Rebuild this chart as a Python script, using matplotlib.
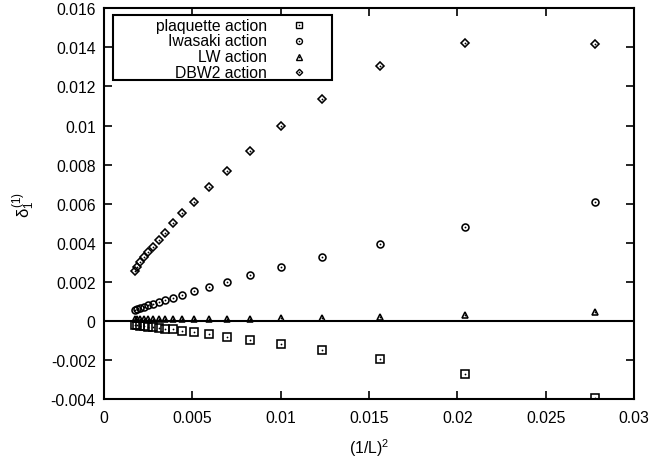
import matplotlib
matplotlib.use("Agg")
import matplotlib.pyplot as plt
from matplotlib.patches import Rectangle
import numpy as np

# =========================
# DATA
# =========================
L_values = [6, 7, 8, 9, 10, 11, 12, 13, 14, 15, 16, 17, 18, 19, 20, 21, 22, 23, 24]

plaquette = [-0.00397, -0.00272, -0.00195, -0.00149, -0.00120, -0.00096, -0.00080,
             -0.00068, -0.00056, -0.00050, -0.00043, -0.00040, -0.00036, -0.00032,
             -0.00029, -0.00027, -0.00025, -0.00023, -0.00021]
iwasaki = [0.00607, 0.00482, 0.00395, 0.00327, 0.00275, 0.00234, 0.00200,
           0.00173, 0.00151, 0.00134, 0.00119, 0.00105, 0.00096, 0.00088,
           0.00080, 0.00073, 0.00066, 0.00061, 0.00056]
lw_action = [0.00045, 0.00031, 0.00020, 0.00015, 0.00013, 0.00012, 0.00011,
             0.00011, 0.00010, 0.00010, 0.00010, 0.00009, 0.00009, 0.00009,
             0.00009, 0.00008, 0.00008, 0.00008, 0.00008]
dbw2 = [0.01419, 0.01421, 0.01304, 0.01138, 0.00995, 0.00870, 0.00768,
        0.00683, 0.00611, 0.00551, 0.00499, 0.00451, 0.00415, 0.00380,
        0.00351, 0.00325, 0.00300, 0.00276, 0.00254]

labels = ['plaquette action', 'Iwasaki action', 'LW action', 'DBW2 action']

x_ticks = [0, 0.005, 0.01, 0.015, 0.02, 0.025, 0.03]
x_tick_labels = ['0', '0.005', '0.01', '0.015', '0.02', '0.025', '0.03']
y_ticks = [-0.004, -0.002, 0, 0.002, 0.004, 0.006, 0.008, 0.01, 0.012, 0.014, 0.016]
y_tick_labels = ['-0.004', '-0.002', '0', '0.002', '0.004', '0.006', '0.008',
                 '0.01', '0.012', '0.014', '0.016']

x = 1.0 / np.array(L_values, dtype=float) ** 2

# =========================
# STYLE
# =========================
plt.rcParams['font.family'] = ['Liberation Sans', 'DejaVu Sans']
plt.rcParams['mathtext.fontset'] = 'custom'
plt.rcParams['mathtext.rm'] = 'Liberation Sans'
plt.rcParams['mathtext.it'] = 'Liberation Sans'
plt.rcParams['mathtext.bf'] = 'Liberation Sans:bold'

fig = plt.figure(figsize=(6.49, 4.60), dpi=100)
ax = fig.add_axes([0.1602, 0.1304, 0.8167, 0.8494])

series = [
    (plaquette, 's', 5.8),
    (iwasaki, 'o', 5.0),
    (lw_action, '^', 4.8),
    (dbw2, 'D', 3.8),
]

for values, marker, ms in series:
    ax.plot(x, values, linestyle='none', marker=marker, markersize=ms,
            markerfacecolor='none', markeredgecolor='black', markeredgewidth=1.15,
            zorder=3)
    # gnuplot-style centre dot
    ax.plot(x, values, linestyle='none', marker='o', markersize=1.3,
            markerfacecolor='black', markeredgewidth=0, zorder=4)

ax.axhline(0, color='black', linewidth=1.5, zorder=2)

ax.set_xlim(0, 0.03)
ax.set_ylim(-0.004, 0.016)
ax.set_xticks(x_ticks)
ax.set_xticklabels(x_tick_labels)
ax.set_yticks(y_ticks)
ax.set_yticklabels(y_tick_labels)
ax.tick_params(direction='in', top=True, right=True, length=6, width=1.2,
               labelsize=11.3)
ax.tick_params(axis='x', pad=8)
ax.tick_params(axis='y', pad=6)
for spine in ax.spines.values():
    spine.set_linewidth(1.5)

ax.set_xlabel(r'(1/L)$^2$', fontsize=11.3, labelpad=8)
ax.set_ylabel(r'$\delta_1^{(1)}$', fontsize=12, labelpad=10)

# =========================
# LEGEND (gnuplot-like key: text right-aligned, marker on the right)
# =========================
box = Rectangle((0.0175, 0.8172), 0.4133, 0.1657, transform=ax.transAxes,
                facecolor='white', edgecolor='black', linewidth=1.5, zorder=5)
ax.add_patch(box)
row_y = 0.956
row_step = 0.0397
for i, (label, (values, marker, ms)) in enumerate(zip(labels, series)):
    yy = row_y - i * row_step
    ax.text(0.307, yy, label, transform=ax.transAxes, ha='right', va='center',
            fontsize=11.3, zorder=6)
    ax.plot([0.3685], [yy], transform=ax.transAxes, linestyle='none',
            marker=marker, markersize=ms * 0.85, markerfacecolor='none',
            markeredgecolor='black', markeredgewidth=1.0, zorder=6, clip_on=False)
    ax.plot([0.3685], [yy], transform=ax.transAxes, linestyle='none',
            marker='o', markersize=1.2, markerfacecolor='black',
            markeredgewidth=0, zorder=7, clip_on=False)

fig.savefig('out.png', dpi=100)
